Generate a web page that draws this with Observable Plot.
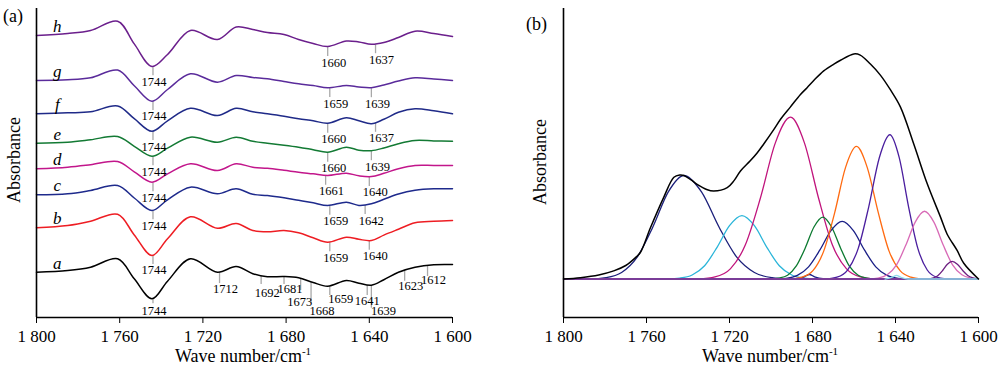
<!DOCTYPE html>
<html><head><meta charset="utf-8">
<script src="https://cdn.jsdelivr.net/npm/d3@7"></script>
<script src="https://cdn.jsdelivr.net/npm/@observablehq/plot@0.6"></script>
<style>
body{margin:0;background:#fff;}
#wrap{position:relative;width:1000px;height:370px;overflow:hidden;background:#fff;}
#pa,#pb{position:absolute;top:0;}
#pa{left:0;} #pb{left:490px;}
svg{display:block;}
</style></head><body>
<div id="wrap"><div id="pa"></div><div id="pb"></div></div>
<script>
// ---------- DATA: panel (a) ----------
const xTicks = [1800, 1760, 1720, 1680, 1640, 1600];
const seriesKeys = ["a", "b", "c", "d", "e", "f", "g", "h"];
const wave = [1800, 1785, 1774, 1761, 1753, 1744.5, 1737, 1726, 1713, 1704, 1696, 1689, 1681, 1674, 1667, 1660, 1651, 1645, 1639, 1633, 1626, 1618, 1609, 1600];
const seriesA = [0, 1.7, 5, 13.4, -6.6, -26.6, -9, 13.4, 0, 5.7, -1.5, -4.5, -4.3, -5.6, -10.3, -14, -8.3, -11, -13, -7.5, 0, 5, 7.5, 7.7];
const seriesB = [0, 2.3, 6.6, 13.5, -7.1, -27.7, -11, 11, -0.5, 4.3, -2.7, -4, -2.7, -5, -10, -14.4, -9.4, -11.5, -12.7, -7.3, -1.5, 5, 6.5, 7.3];
const seriesC = [0, 1, 4.3, 9.3, -3.2, -15.7, -5, 7.6, 1, 6, 0.5, -0.7, -3, -5.5, -8, -10.7, -7.4, -10.6, -9, -4.5, 0.8, 4.5, 6, 6];
const seriesD = [0, 1.6, 4, 7.3, -3, -13.4, -5, 5, -1.7, 5, 1.5, 0.5, -1.5, -3.4, -5, -6.7, -4.4, -7, -7.8, -4.5, 0, 3.3, 3.3, 3.3];
const seriesE = [0, 1, 3.4, 6.7, -3.1, -13, -5, 6, 1, 6, 2, 0, -2, -4, -6.5, -9, -4, -7, -7.5, -4.8, -0.5, 2.7, 2.3, 2];
const seriesF = [0, 1, 2, 7.8, -4.9, -17.5, -7, 5.5, -1.7, 5.5, 2, 0, -2.5, -5, -7, -9.4, -4, -7, -10, -5.5, 1.5, 5, 3, 0];
const seriesG = [0, 0.7, 2.7, 10.4, -5.2, -20.7, -9, 6.7, -1.7, 5, 3, 1.7, -1, -3.3, -5, -7.3, -5, -6.5, -7.2, -4.5, -0.5, 2.7, 1.5, 0];
const seriesH = [0, 2, 5, 14.3, -8.4, -31, -19, 5, -4, 8.5, 6, 3, 1, -4, -8, -11, -5.5, -6.5, -8.8, -7, -2, 4.3, 2, -1];
const curveOffsets = [45.3, 89.7, 122.7, 148.7, 174.3, 203.7, 237, 282];
const peaksA = [1744, 1712, 1692, 1681, 1673, 1668, 1659, 1641, 1639, 1623, 1612];
const peaksB = [1744, 1659, 1640];
const peaksC = [1744, 1659, 1642];
const peaksD = [1744, 1661, 1640];
const peaksE = [1744, 1660, 1639];
const peaksF = [1744, 1660, 1637];
const peaksG = [1744, 1659, 1639];
const peaksH = [1744, 1660, 1637];

// ---------- DATA: panel (b) ----------
const envelope = [[1800,0],[1791.8,0.006],[1783,0.018],[1775.8,0.036],[1770,0.06],[1765.3,0.095],[1762.9,0.119],[1758.1,0.228],[1751.7,0.363],[1746.8,0.452],[1744,0.462],[1742,0.46],[1738.5,0.44],[1735.6,0.421],[1731,0.398],[1727.6,0.391],[1721.1,0.406],[1717.9,0.436],[1714.7,0.48],[1710,0.525],[1706.7,0.56],[1703.5,0.6],[1698.6,0.665],[1695.4,0.71],[1690.6,0.765],[1685.8,0.82],[1682.6,0.85],[1679.4,0.882],[1674.6,0.925],[1669.7,0.955],[1666.5,0.972],[1660.1,1.0],[1657,0.995],[1652.1,0.955],[1647.2,0.905],[1642.4,0.84],[1637.6,0.764],[1631.2,0.6],[1624.7,0.423],[1618.3,0.275],[1615.1,0.199],[1610.3,0.127],[1607.1,0.07],[1600,0]];
const band1742 = [[1800,0],[1787,0],[1779.5,0.006],[1772,0.029],[1764.5,0.097],[1757,0.23],[1749.5,0.387],[1742,0.46],[1733.5,0.387],[1725,0.23],[1716.5,0.097],[1708,0.029],[1699.5,0.006],[1691,0]];
const band1714 = [[1750,0],[1744,0.004],[1738,0.018],[1732,0.059],[1726,0.141],[1720,0.237],[1714,0.282],[1708,0.237],[1702,0.141],[1696,0.059],[1690,0.018],[1684,0.004],[1678,0]];
const band1691 = [[1735,0],[1727,0.009],[1719.6,0.045],[1712.4,0.151],[1705.1,0.36],[1697.9,0.605],[1690.6,0.719],[1683.9,0.605],[1677.1,0.36],[1670.4,0.151],[1663.6,0.045],[1656.9,0.009],[1650,0]];
const band1675 = [[1700.5,0],[1696.3,0.004],[1692,0.017],[1687.8,0.058],[1683.5,0.138],[1679.3,0.231],[1675,0.275],[1670.8,0.231],[1666.5,0.138],[1662.3,0.058],[1658,0.017],[1653.8,0.004],[1649.5,0]];
const band1666 = [[1698.1,0],[1692.7,0.003],[1687.3,0.016],[1681.9,0.054],[1676.5,0.128],[1671.1,0.215],[1665.7,0.256],[1660.3,0.215],[1654.9,0.128],[1649.5,0.054],[1644.1,0.016],[1638.7,0.003],[1633.3,0]];
const band1682 = [[1689,0],[1684,0.01],[1681.5,0.02],[1679,0.01],[1674,0]];
const band1659 = [[1690.3,0],[1685.1,0.008],[1679.8,0.037],[1674.6,0.124],[1669.3,0.295],[1664.1,0.495],[1658.8,0.589],[1653.6,0.495],[1648.3,0.295],[1643.1,0.124],[1637.8,0.037],[1632.6,0.008],[1627.3,0]];
const band1643 = [[1673.3,0],[1668.2,0.008],[1663.1,0.04],[1658,0.135],[1652.9,0.321],[1647.8,0.539],[1642.7,0.641],[1638.2,0.539],[1633.7,0.321],[1629.2,0.135],[1624.7,0.04],[1620.2,0.008],[1615.7,0]];
const band1626 = [[1653,0],[1648.5,0.004],[1644,0.019],[1639.5,0.063],[1635,0.151],[1630.5,0.253],[1626,0.301],[1621.5,0.253],[1617,0.151],[1612.5,0.063],[1608,0.019],[1603.5,0.004],[1600,0]];
const band1613 = [[1625,0],[1621.7,0.005],[1619.5,0.016],[1617.2,0.039],[1615,0.066],[1612.7,0.078],[1610.2,0.066],[1607.7,0.039],[1605.2,0.016],[1602.7,0.005],[1600,0]];
const band1640 = [[1645,0],[1641.5,0.008],[1639.5,0.016],[1637.5,0.008],[1634,0],[1600,0]];

// ---------- styling ----------
const serif = "'Liberation Serif', 'Times New Roman', serif";
const fmt = d3.formatLocale({decimal: ".", thousands: " ", grouping: [3], currency: ["", ""]}).format(",");
const colorsA = {a: "#000000", b: "#ee1d23", c: "#1e2a8c", d: "#c2168b", e: "#137a34", f: "#1f2a88", g: "#5a2b9b", h: "#6b1f8c"};
const xDomain = [1800, 1600];
const yDomA = [0, 309];
const yDomB = [-0.171, 1.202];

const seriesVals = [seriesA, seriesB, seriesC, seriesD, seriesE, seriesF, seriesG, seriesH];
const peakLists = [peaksA, peaksB, peaksC, peaksD, peaksE, peaksF, peaksG, peaksH];

function interp(vals, w) {
  for (let j = 0; j < wave.length - 1; j++) {
    if (w <= wave[j] && w >= wave[j + 1]) {
      const t = (wave[j] - w) / (wave[j] - wave[j + 1]);
      return vals[j] + t * (vals[j + 1] - vals[j]);
    }
  }
  return vals[vals.length - 1];
}

// annotation geometry tweaks (px)
const tweaks = {
  "a1744": {len: 5, gap: 7, dx: 1},
  "a1712": {len: 11, gap: 5.6},
  "a1692": {len: 8, gap: 9},
  "a1681": {len: 7, gap: 4},
  "a1673": {len: 11, gap: 11.5, dx: -1},
  "a1668": {len: 21, gap: 7.5, dx: 11},
  "a1659": {len: 9, gap: 3.3, dx: 11},
  "a1641": {len: 10, gap: 5.5, dx: 0},
  "a1639": {len: 22, gap: 3, dx: 12},
  "a1623": {len: 10, gap: 5},
  "a1612": {len: 10, gap: 3.3}
};

const rowsA = seriesKeys.flatMap((k, i) => wave.map((w, j) => ({s: k, w, v: seriesVals[i][j] + curveOffsets[i]})));
const ann = seriesKeys.flatMap((k, i) => peakLists[i].map(p => {
  const tw = tweaks[k + p] || {};
  const len = tw.len ?? 9, gap = tw.gap ?? 6, dx = tw.dx ?? (p === 1744 ? 1 : 6);
  const top = interp(seriesVals[i], p) + curveOffsets[i] - 1;
  const bottom = top - len;
  return {s: k, w: p, top, bottom, ly: bottom - gap, dx};
}));
const dxGroups = Array.from(d3.group(ann, d => d.dx));

const plotA = Plot.plot({
  width: 490, height: 370,
  marginLeft: 36, marginRight: 38, marginTop: 8, marginBottom: 53,
  x: {domain: xDomain, ticks: xTicks, tickFormat: fmt, tickSize: 6, tickPadding: 6, label: null},
  y: {domain: yDomA, axis: null},
  style: {fontFamily: serif, fontSize: "17px", color: "#000", background: "transparent", overflow: "visible"},
  marks: [
    Plot.ruleX(ann, {x: "w", y1: "top", y2: "bottom", stroke: "#a8a8a8", strokeWidth: 1.3}),
    ...seriesKeys.map(k => Plot.line(rowsA.filter(r => r.s === k), {x: "w", y: "v", stroke: colorsA[k], strokeWidth: 1.5, curve: "catmull-rom"})),
    ...dxGroups.map(([dx, list]) => Plot.text(list, {x: "w", y: "ly", text: d => String(d.w), dx: +dx, fontSize: 12.5, fontFamily: serif, fill: "#000", lineAnchor: "middle"})),
    Plot.text(seriesKeys.map((k, i) => ({k, w: 1790, v: curveOffsets[i] + 9})), {x: "w", y: "v", text: "k", fontSize: 17, fontStyle: "italic", fontFamily: serif, fill: "#000", lineAnchor: "middle"}),
    Plot.ruleX([xDomain[0]], {stroke: "#000", strokeWidth: 1.6}),
    Plot.ruleY([yDomA[0]], {stroke: "#000", strokeWidth: 1.6})
  ]
});
document.getElementById("pa").appendChild(plotA);

// ---------- panel (b) ----------
const toRows = arr => arr.map(([w, v]) => ({w, v}));
const bands = [
  [band1742, "#1b1f7a"], [band1714, "#2ab5d9"], [band1691, "#c0147c"], [band1675, "#0c7a30"],
  [band1666, "#1a1f86"], [band1682, "#1a1f86"], [band1659, "#ff6a10"], [band1643, "#4a1e9e"],
  [band1626, "#d86ab6"], [band1613, "#6d1f80"]
];
const plotB = Plot.plot({
  width: 510, height: 370,
  marginLeft: 73, marginRight: 22, marginTop: 8, marginBottom: 53,
  x: {domain: xDomain, ticks: xTicks, tickFormat: fmt, tickSize: 6, tickPadding: 6, label: null},
  y: {domain: yDomB, axis: null},
  style: {fontFamily: serif, fontSize: "17px", color: "#000", background: "transparent", overflow: "visible"},
  marks: [
    ...bands.map(([arr, c]) => Plot.line(toRows(arr), {x: "w", y: "v", stroke: c, strokeWidth: 1.3, curve: "monotone-x"})),
    Plot.ruleY([0], {stroke: "#7a3c98", strokeWidth: 2}),
    Plot.line(toRows(band1640), {x: "w", y: "v", stroke: "#8fdcea", strokeWidth: 1.3, curve: "monotone-x"}),
    Plot.line(toRows(envelope), {x: "w", y: "v", stroke: "#000", strokeWidth: 1.5, curve: "catmull-rom"}),
    Plot.ruleX([xDomain[0]], {stroke: "#000", strokeWidth: 1.6}),
    Plot.ruleY([yDomB[0]], {stroke: "#000", strokeWidth: 1.6})
  ]
});
document.getElementById("pb").appendChild(plotB);

// ---------- titles / axis labels as real text ----------
function decorate(svg, xLabelX, yLabelX, yLabelY, tag, tagX, tagY) {
  const s = d3.select(svg);
  const t = s.append("text").attr("x", xLabelX).attr("y", 362).attr("text-anchor", "middle")
    .attr("font-family", serif).attr("font-size", 18).attr("fill", "#000");
  t.append("tspan").text("Wave number/cm");
  t.append("tspan").attr("dy", -7).attr("font-size", 11).text("-1");
  s.append("text").attr("transform", `translate(${yLabelX},${yLabelY}) rotate(-90)`)
    .attr("text-anchor", "middle").attr("dominant-baseline", "central")
    .attr("font-family", serif).attr("font-size", 18).attr("fill", "#000").text("Absorbance");
  s.append("text").attr("x", tagX).attr("y", tagY).attr("text-anchor", "start").attr("font-family", serif)
    .attr("font-size", 18).attr("fill", "#000").text(tag);
}
decorate(plotA, 243, 14, 160, "(a)", 3, 22);
decorate(plotB, 280, 50, 162, "(b)", 36, 30);
</script>
</body></html>
